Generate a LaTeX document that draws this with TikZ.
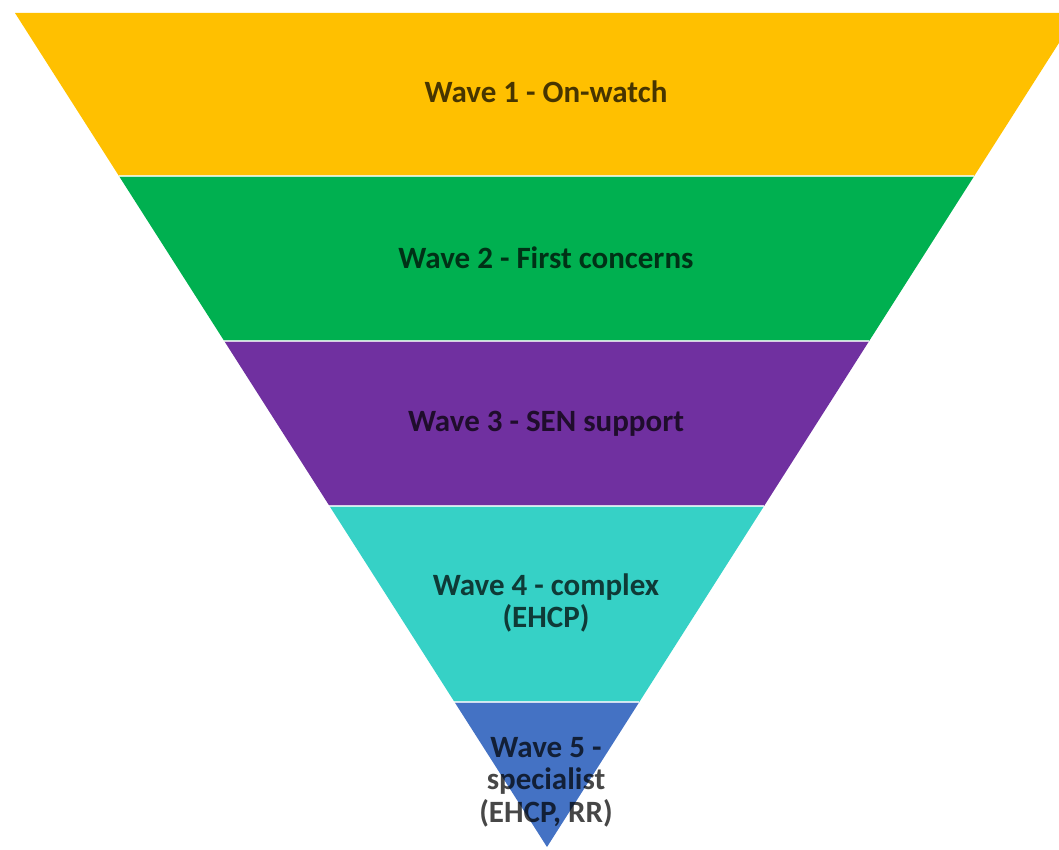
\documentclass[tikz,border=0pt]{standalone}
\usepackage{fontspec}
\setmainfont{Carlito}
\usetikzlibrary{calc}
\definecolor{waveyellow}{HTML}{FFC000}
\definecolor{wavegreen}{HTML}{00B050}
\definecolor{wavepurple}{HTML}{7030A0}
\definecolor{waveteal}{HTML}{36D1C6}
\definecolor{waveblue}{HTML}{4472C4}

\begin{document}
\begin{tikzpicture}[
    x=1pt, y=-1pt,
    sep/.style={draw=white, draw opacity=0.75, line width=2pt},
    wlabel/.style={font=\fontsize{31}{32.5}\selectfont\bfseries,
                   text=black, text opacity=0.72, align=center, inner sep=0pt},
  ]
    \useasboundingbox (0,0) rectangle (1059,850);

    % funnel corners
    \coordinate (tl)  at (15,13);
    \coordinate (tr)  at (1078,13);
    \coordinate (tip) at (547,847);
    \foreach \t [count=\i] in {0.1954, 0.3933, 0.5911, 0.8261} {
      \coordinate (l\i) at ($(tl)!\t!(tip)$);
      \coordinate (r\i) at ($(tr)!\t!(tip)$);
    }

    % bands
    \fill[waveyellow] (tl) -- (tr) -- (r1) -- (l1) -- cycle;
    \fill[wavegreen]  (l1) -- (r1) -- (r2) -- (l2) -- cycle;
    \fill[wavepurple] (l2) -- (r2) -- (r3) -- (l3) -- cycle;
    \fill[waveteal]   (l3) -- (r3) -- (r4) -- (l4) -- cycle;
    \fill[waveblue]   (l4) -- (r4) -- (tip) -- cycle;

    \draw[sep] (l1) -- (r1);
    \draw[sep] (l2) -- (r2);
    \draw[sep] (l3) -- (r3);
    \draw[sep] (l4) -- (r4);

    % labels
    \node[wlabel, anchor=base] (w1) at (546,103) {Wave 1 - On-watch};
    \node[wlabel, anchor=base] (w2) at (546,268) {Wave 2 - First concerns};
    \node[wlabel, anchor=base] (w3) at (546,431) {Wave 3 - SEN support};
    \node[wlabel] (w4) at (546,603) {Wave 4 - complex\\(EHCP)};
    \node[wlabel] (w5) at (546,782) {Wave 5 -\\specialist\\(EHCP, RR)};
  \end{tikzpicture}
\end{document}
